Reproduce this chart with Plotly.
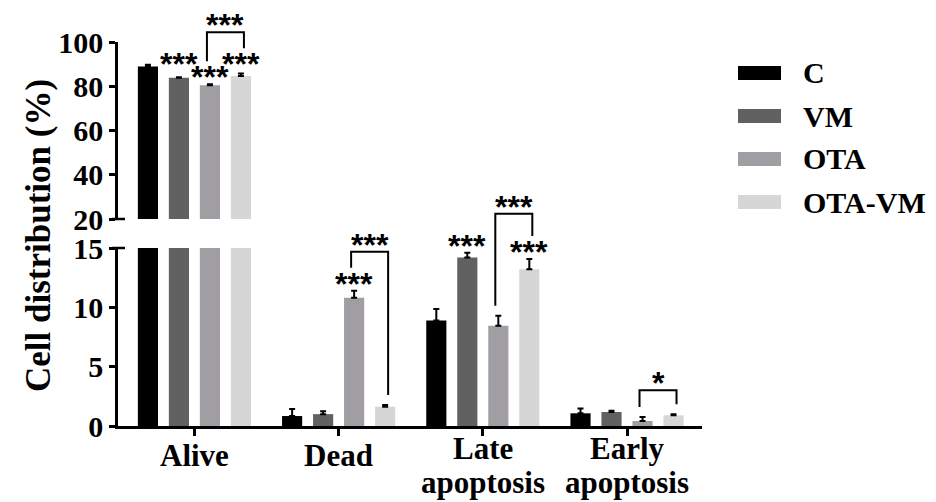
import plotly.graph_objects as go

# ---------------- data ----------------
categories = ["Alive", "Dead", "Late apoptosis", "Early apoptosis"]
tick_labels = ["Alive", "Dead", "Late<br>apoptosis", "Early<br>apoptosis"]
series_names = ["C", "VM", "OTA", "OTA-VM"]
colors = ["#000000", "#616161", "#a19ea3", "#d6d6d6"]

vals_C = [88.9, 0.84, 8.9, 1.07]
vals_VM = [83.8, 1.0, 14.2, 1.18]
vals_OTA = [80.5, 10.8, 8.45, 0.42]
vals_OTAVM = [84.6, 1.63, 13.2, 0.9]

err_C = [0.8, 0.6, 0.95, 0.4]
err_VM = [0.3, 0.25, 0.4, 0.1]
err_OTA = [0.45, 0.6, 0.85, 0.33]
err_OTAVM = [1.2, 0.15, 0.87, 0.1]

values = [vals_C, vals_VM, vals_OTA, vals_OTAVM]
errors = [err_C, err_VM, err_OTA, err_OTAVM]

lower_ticks = [0, 5, 10, 15]
upper_ticks = [20, 40, 60, 80, 100]

# significance versus control: (category index, series index, label)
sig_marks = [(0, 1, "***"), (0, 2, "***"), (0, 3, "***"),
             (1, 2, "***"), (2, 1, "***"), (2, 3, "***")]
# brackets: (category index, series a, series b, label)
brackets = [(0, 2, 3, "***"), (1, 2, 3, "***"), (2, 2, 3, "***"), (3, 2, 3, "*")]

# ---------------- geometry ----------------
W, H = 936, 502
X0, X1 = 118, 702             # x axis pixel extent
XR = [-0.53, 3.52]
LOW_B, LOW_T = 426, 248       # lower panel pixel extent (0..15)
UP_B, UP_T = 219, 42          # upper panel pixel extent (20..100)
LOW_R = [0, 15]
UP_R = [20, 100]
BARGAP = 0.14
SLOT = (1 - BARGAP) / len(series_names)


def cat_px(pos):
    return X0 + (pos - XR[0]) / (XR[1] - XR[0]) * (X1 - X0)


def px_x(cat, i):
    return cat_px(cat + (i - (len(series_names) - 1) / 2) * SLOT)


def px_y(v):
    if v > LOW_R[1]:
        return UP_B - (v - UP_R[0]) / (UP_R[1] - UP_R[0]) * (UP_B - UP_T)
    return LOW_B - (v - LOW_R[0]) / (LOW_R[1] - LOW_R[0]) * (LOW_B - LOW_T)


def xp(px):
    return px / W


def yp(py):
    return 1 - py / H


FONT_SERIF = "Liberation Serif"
FONT_SANS = "Liberation Sans"

fig = go.Figure()

for i, name in enumerate(series_names):
    for xa, ya in (("x", "y"), ("x2", "y2")):
        fig.add_trace(go.Bar(
            x=categories, y=values[i], name=name,
            xaxis=xa, yaxis=ya,
            marker=dict(color=colors[i], line=dict(width=0)),
            error_y=dict(type="data", symmetric=False, array=errors[i],
                         arrayminus=[0] * len(categories),
                         color="black", thickness=2, width=3),
            showlegend=False,
        ))

# ---------------- significance stars ----------------
STAR_SIZE = 32
STAR_SHIFT = 3   # glyph sits high in its text box
shapes = []
annotations = []

text_centers = {}
for cat, i, lab in sig_marks:
    cap = px_y(values[i][cat] + errors[i][cat])
    text_centers[(cat, i)] = cap - 10
# keep neighbouring star labels from colliding: lift the upper one
for (cat, i) in sorted(text_centers):
    for j in (i - 1, i + 1):
        if (cat, j) in text_centers:
            a, b = text_centers[(cat, i)], text_centers[(cat, j)]
            if a <= b and b - a < 12:
                text_centers[(cat, i)] = b - 13
for (cat, i), cy in text_centers.items():
    lab = [m[2] for m in sig_marks if m[0] == cat and m[1] == i][0]
    annotations.append(dict(
        x=xp(px_x(cat, i)), y=yp(cy + STAR_SHIFT), xref="paper", yref="paper",
        text="<b>%s</b>" % lab, showarrow=False, xanchor="center", yanchor="middle",
        font=dict(family=FONT_SANS, size=STAR_SIZE, color="black")))

for cat, a, b, lab in brackets:
    legs = []
    for i in (a, b):
        if (cat, i) in text_centers:
            legs.append(text_centers[(cat, i)] - 13)
        else:
            legs.append(px_y(values[i][cat] + errors[i][cat]) - 10)
    top = min(legs) - 14
    texts = [c for (cc, _), c in text_centers.items() if cc == cat]
    if texts:
        top = min(top, min(texts) - 6 - 23)
    xa_, xb_ = px_x(cat, a) - 3, px_x(cat, b) + 3
    path = "M {} {} L {} {} L {} {} L {} {}".format(
        xp(xa_), yp(legs[0]), xp(xa_), yp(top), xp(xb_), yp(top), xp(xb_), yp(legs[1]))
    shapes.append(dict(type="path", path=path, xref="paper", yref="paper",
                       line=dict(color="black", width=2)))
    annotations.append(dict(
        x=xp((xa_ + xb_) / 2), y=yp(top - 10 + STAR_SHIFT), xref="paper", yref="paper",
        text="<b>%s</b>" % lab, showarrow=False, xanchor="center", yanchor="middle",
        font=dict(family=FONT_SANS, size=STAR_SIZE, color="black")))

# axis-break caps
for py in (UP_B, LOW_T):
    shapes.append(dict(type="line", xref="paper", yref="paper",
                       x0=xp(X0 - 6), x1=xp(X0 + 7), y0=yp(py), y1=yp(py),
                       line=dict(color="black", width=2.5)))

# ---------------- category labels (below the axis) ----------------
XLAB_SIZE = 31
BASE1 = 466      # baseline of single-line labels
PITCH = 34
for k, lab in enumerate(tick_labels):
    lines = lab.split("<br>")
    first = BASE1 - 7 * (len(lines) - 1)
    for n, line in enumerate(lines):
        base = first + n * PITCH
        annotations.append(dict(
            x=xp(cat_px(k)), y=yp(base - 0.34 * XLAB_SIZE), xref="paper", yref="paper",
            text="<b>%s</b>" % line, showarrow=False, xanchor="center", yanchor="middle",
            font=dict(family=FONT_SERIF, size=XLAB_SIZE, color="black")))

# ---------------- legend (drawn) ----------------
LEG_X0, LEG_X1, LEG_Y0, LEG_DY, LEG_H = 738, 781, 73, 43, 14
for i, name in enumerate(series_names):
    cy = LEG_Y0 + i * LEG_DY
    shapes.append(dict(type="rect", xref="paper", yref="paper",
                       x0=xp(LEG_X0), x1=xp(LEG_X1), y0=yp(cy - LEG_H / 2), y1=yp(cy + LEG_H / 2),
                       fillcolor=colors[i], line=dict(width=0)))
    annotations.append(dict(
        x=xp(801), y=yp(cy), xref="paper", yref="paper", text="<b>%s</b>" % name,
        showarrow=False, xanchor="left", yanchor="middle",
        font=dict(family=FONT_SERIF, size=30, color="black")))

# y axis title
annotations.append(dict(
    x=xp(38), y=yp(236), xref="paper", yref="paper",
    text="<b>Cell distribution (%)</b>", textangle=-90, showarrow=False,
    xanchor="center", yanchor="middle",
    font=dict(family=FONT_SERIF, size=35, color="black")))

axis_common = dict(showgrid=False, zeroline=False, showline=True, linecolor="black",
                   linewidth=2.5, ticks="outside", tickcolor="black", tickwidth=2.5,
                   automargin=False,
                   tickfont=dict(family=FONT_SERIF, size=30, color="black"))

fig.update_layout(
    width=W, height=H, autosize=False,
    margin=dict(l=0, r=0, t=0, b=0),
    paper_bgcolor="white", plot_bgcolor="white",
    barmode="group", bargap=BARGAP, bargroupgap=0.35,
    showlegend=False,
    xaxis=dict(domain=[xp(X0), xp(X1)], range=XR, anchor="y", type="category",
               categoryorder="array", categoryarray=categories,
               tickvals=categories, showticklabels=False,
               ticklen=7, **axis_common),
    xaxis2=dict(domain=[xp(X0), xp(X1)], range=XR, anchor="y2", type="category",
                categoryorder="array", categoryarray=categories, visible=False),
    yaxis=dict(domain=[yp(LOW_B), yp(LOW_T)], range=LOW_R, anchor="x",
               tickvals=lower_ticks, ticktext=["<b>%d</b>" % t for t in lower_ticks],
               ticklen=6, **axis_common),
    yaxis2=dict(domain=[yp(UP_B), yp(UP_T)], range=UP_R, anchor="x2",
                tickvals=upper_ticks, ticktext=["<b>%d</b>" % t for t in upper_ticks],
                ticklen=6, **axis_common),
    shapes=shapes, annotations=annotations,
)

fig.write_html("out.html")
